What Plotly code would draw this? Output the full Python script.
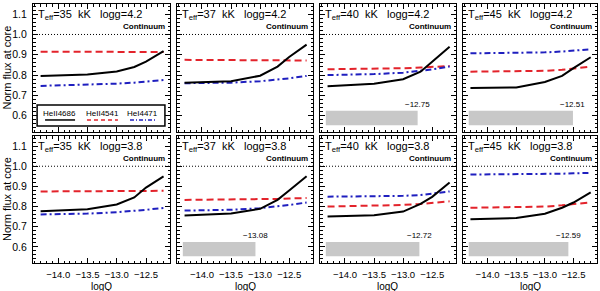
import plotly.graph_objects as go

# ---------------- data ----------------
logQ = [-14.3, -13.5, -13.0, -12.7, -12.5, -12.2]
teff_vals = ["35", "37", "40", "45"]
logg_vals = ["4.2", "3.8"]
CONTINUUM = 1.0

# logg = 4.2 (top row), one list per Teff
heii4686_g42 = [
    [0.796, 0.803, 0.818, 0.840, 0.866, 0.918],
    [0.763, 0.770, 0.797, 0.842, 0.889, 0.950],
    [0.745, 0.757, 0.780, 0.817, 0.866, 0.940],
    [0.736, 0.739, 0.766, 0.796, 0.834, 0.888],
]
heii4541_g42 = [
    [0.915, 0.915, 0.915, 0.915, 0.915, 0.914],
    [0.875, 0.875, 0.874, 0.874, 0.873, 0.872],
    [0.829, 0.831, 0.834, 0.837, 0.840, 0.845],
    [0.817, 0.818, 0.821, 0.826, 0.831, 0.842],
]
hei4471_g42 = [
    [0.747, 0.752, 0.758, 0.763, 0.768, 0.776],
    [0.760, 0.763, 0.770, 0.777, 0.784, 0.796],
    [0.800, 0.805, 0.812, 0.820, 0.828, 0.842],
    [0.907, 0.909, 0.912, 0.916, 0.920, 0.927],
]
# logg = 3.8 (bottom row)
heii4686_g38 = [
    [0.777, 0.787, 0.810, 0.845, 0.894, 0.950],
    [0.756, 0.765, 0.789, 0.833, 0.880, 0.950],
    [0.751, 0.757, 0.775, 0.813, 0.848, 0.919],
    [0.737, 0.743, 0.764, 0.794, 0.820, 0.870],
]
heii4541_g38 = [
    [0.875, 0.875, 0.876, 0.877, 0.877, 0.878],
    [0.833, 0.834, 0.836, 0.838, 0.840, 0.842],
    [0.800, 0.803, 0.808, 0.813, 0.818, 0.826],
    [0.794, 0.796, 0.800, 0.806, 0.812, 0.821],
]
hei4471_g38 = [
    [0.761, 0.765, 0.772, 0.778, 0.784, 0.793],
    [0.780, 0.784, 0.792, 0.800, 0.808, 0.820],
    [0.849, 0.850, 0.853, 0.857, 0.864, 0.875],
    [0.959, 0.960, 0.961, 0.963, 0.965, 0.967],
]
# logQ thresholds (grey bars)
thr_g42 = [None, None, -12.75, -12.51]
thr_g38 = [None, -13.08, -12.72, -12.59]
BAR_START = -14.33
BAR_Y = [0.553, 0.624]
line_names = ["HeII4686", "HeII4541", "HeI4471"]

# ---------------- style ----------------
FONT = "Liberation Sans, Arial, sans-serif"
RED = "#e3232b"
BLUE = "#1f1fbf"
XR = [-14.43, -12.09]
YR = [0.52, 1.15]

W, H = 600, 291
ML, MR, MT, MB = 33, 3, 4, 28
PW = W - ML - MR
PH = H - MT - MB
col_px = [(33, 170), (177, 313), (320, 456), (463, 597)]
row_px = [(4, 132), (136, 263)]


def xdom(c):
    a, b = col_px[c]
    return [(a - ML) / PW, (b - ML) / PW]


def ydom(r):
    a, b = row_px[r]
    return [1 - (b - MT) / PH, 1 - (a - MT) / PH]


fig = go.Figure()
rows = [
    (heii4686_g42, heii4541_g42, hei4471_g42, thr_g42),
    (heii4686_g38, heii4541_g38, hei4471_g38, thr_g38),
]
annotations = []
shapes = []
layout_axes = {}

for r in range(2):
    blk, red, blu, thr = rows[r]
    for c in range(4):
        k = r * 4 + c + 1
        xs = "x" if k == 1 else f"x{k}"
        ys = "y" if k == 1 else f"y{k}"
        xa = "xaxis" if k == 1 else f"xaxis{k}"
        ya = "yaxis" if k == 1 else f"yaxis{k}"
        # continuum dotted line
        fig.add_trace(go.Scatter(x=XR, y=[CONTINUUM, CONTINUUM], mode="lines",
                                 line=dict(color="black", width=1, dash="1px,2px"),
                                 xaxis=xs, yaxis=ys, showlegend=False, hoverinfo="skip"))
        fig.add_trace(go.Scatter(x=logQ, y=red[c], mode="lines",
                                 line=dict(color=RED, width=2, dash="7px,4px"),
                                 xaxis=xs, yaxis=ys, showlegend=False, name=line_names[1]))
        fig.add_trace(go.Scatter(x=logQ, y=blu[c], mode="lines",
                                 line=dict(color=BLUE, width=2, dash="6px,3px,2px,3px"),
                                 xaxis=xs, yaxis=ys, showlegend=False, name=line_names[2]))
        fig.add_trace(go.Scatter(x=logQ, y=blk[c], mode="lines",
                                 line=dict(color="black", width=2),
                                 xaxis=xs, yaxis=ys, showlegend=False, name=line_names[0]))
        layout_axes[xa] = dict(
            domain=xdom(c), range=XR, anchor=ys, showline=True, mirror="allticks",
            linecolor="black", linewidth=1, ticks="inside", ticklen=5, tickcolor="black",
            tick0=-14.0, dtick=0.5, tickformat=".1f", showgrid=False, zeroline=False,
            showticklabels=(r == 1), tickfont=dict(family=FONT, size=9.5, color="black"),
            ticklabelstandoff=3, tickangle=0,
            minor=dict(ticks="inside", ticklen=2.5, dtick=0.1, tick0=-14.0, tickcolor="black", showgrid=False),
        )
        layout_axes[ya] = dict(
            domain=ydom(r), range=YR, anchor=xs, showline=True, mirror="allticks",
            linecolor="black", linewidth=1, ticks="inside", ticklen=5, tickcolor="black",
            tick0=0.6, dtick=0.1, tickformat=".1f", showgrid=False, zeroline=False,
            showticklabels=(c == 0), tickfont=dict(family=FONT, size=10.5, color="black"),
            ticklabelstandoff=3,
            minor=dict(ticks="inside", ticklen=2.5, dtick=0.02, tick0=0.6, tickcolor="black", showgrid=False),
        )
        # panel title
        annotations.append(dict(
            text=f"T<sub>eff</sub>={teff_vals[c]}\u00a0\u00a0kK\u00a0\u00a0\u00a0logg={logg_vals[r]}",
            xref=f"{xs} domain", yref=f"{ys} domain", x=0.025, y=0.985,
            xanchor="left", yanchor="top", showarrow=False,
            font=dict(family=FONT, size=11, color="black")))
        annotations.append(dict(
            text="<b>Continuum</b>", xref=f"{xs} domain", yref=ys, x=0.975, y=CONTINUUM,
            xanchor="right", yanchor="bottom", yshift=1, showarrow=False,
            font=dict(family=FONT, size=8, color="black")))
        if thr[c] is not None:
            shapes.append(dict(type="rect", xref=xs, yref=ys, x0=BAR_START, x1=thr[c],
                               y0=BAR_Y[0], y1=BAR_Y[1], fillcolor="#c8c8c8",
                               line=dict(width=0), layer="below"))
            annotations.append(dict(
                text=f"\u2212{abs(thr[c]):.2f}", xref=xs, yref=ys, x=thr[c], y=0.655,
                xanchor="center", yanchor="middle", showarrow=False,
                font=dict(family=FONT, size=8, color="black")))
        if r == 1:
            d = xdom(c)
            annotations.append(dict(
                text="logQ", xref="paper", yref="paper", x=(d[0] + d[1]) / 2,
                y=1 - (286 - MT) / PH, xanchor="center", yanchor="middle", showarrow=False,
                font=dict(family=FONT, size=10, color="black")))
    # y title
    a, b = row_px[r]
    annotations.append(dict(
        text="Norm flux at core", xref="paper", yref="paper", x=(6.5 - ML) / PW,
        y=1 - ((a + b) / 2 - MT) / PH, textangle=-90, xanchor="center", yanchor="middle",
        showarrow=False, font=dict(family=FONT, size=11, color="black")))

# legend box in the first panel
shapes.append(dict(type="rect", xref="x domain", yref="y domain", x0=0.03, x1=0.963,
                   y0=0.047, y1=0.211, line=dict(color="black", width=1.5), fillcolor="white"))
leg_x = [(0.088, 0.307, 0.197), (0.394, 0.62, 0.51), (0.708, 0.898, 0.80)]
leg_style = [dict(color="black", width=1.5), dict(color=RED, width=1.5, dash="4px,3px"),
             dict(color=BLUE, width=1.5, dash="4px,2px,1px,2px")]
for i in range(3):
    x0, x1, xc = leg_x[i]
    shapes.append(dict(type="line", xref="x domain", yref="y domain", x0=x0, x1=x1,
                       y0=0.094, y1=0.094, line=leg_style[i]))
    annotations.append(dict(text=line_names[i], xref="x domain", yref="y domain", x=xc, y=0.142,
                            xanchor="center", yanchor="middle", showarrow=False,
                            font=dict(family=FONT, size=8, color="black")))

fig.update_layout(
    width=W, height=H, margin=dict(l=ML, r=MR, t=MT, b=MB, autoexpand=False),
    paper_bgcolor="white", plot_bgcolor="white", showlegend=False,
    annotations=annotations, shapes=shapes, **layout_axes,
)
fig.write_html("out.html", config={"displayModeBar": False},
               post_script="document.body.style.margin='0';")
